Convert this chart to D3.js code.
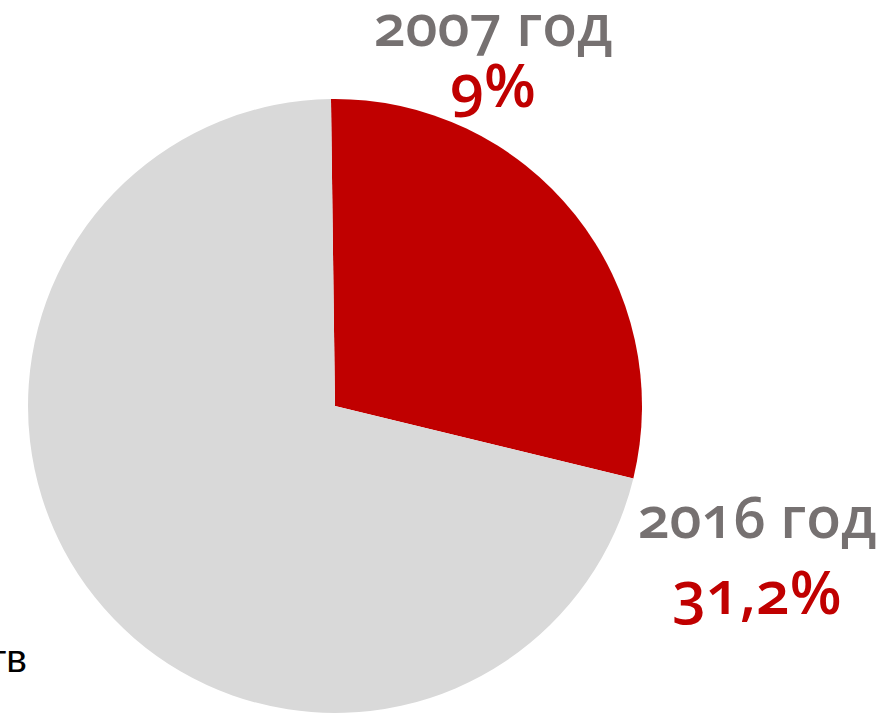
<!DOCTYPE html>
<html><head><meta charset="utf-8">
<script src="https://cdn.jsdelivr.net/npm/d3@7"></script>
<style>
html,body{margin:0;padding:0;background:#fff;}
svg{display:block;}
.lbl{font-family:"Open Sans",sans-serif;font-weight:600;font-feature-settings:"onum" 1;font-variant-numeric:oldstyle-nums;}
</style></head>
<body><svg id="c" width="890" height="714"></svg>
<script>
// slice shares as drawn in the picture (red = 2016 share region, grey = rest)
const sliceNames = ["доля", "остальное"];
const sliceValues = [29.0, 71.0];
const sliceColors = ["#C00000", "#D9D9D9"];
const yearLabels = ["2007 год", "2016 год"];
const pctLabels = ["9%", "31,2%"];
const sideLabel = "тв";

const svg = d3.select("#c");
const cx = 335, cy = 406, r = 307;
const startA = -0.75 * Math.PI / 180;
const pie = d3.pie().sort(null).startAngle(startA).endAngle(startA + 2 * Math.PI);
const arc = d3.arc().innerRadius(0).outerRadius(r);
const g = svg.append("g").attr("transform", `translate(${cx},${cy})`);
g.selectAll("path").data(pie(sliceValues)).join("path")
  .attr("d", arc).attr("fill", (d, i) => sliceColors[i]);

const pos = [{x: 493, y1: 46, y2: 107}, {x: 757, y1: 538, y2: 614}];
yearLabels.forEach((t, i) => {
  svg.append("text").attr("class", "lbl").attr("x", pos[i].x).attr("y", pos[i].y1)
    .attr("text-anchor", "middle").attr("font-size", 57).attr("fill", "#767171").text(t);
  svg.append("text").attr("class", "lbl").attr("x", pos[i].x).attr("y", pos[i].y2)
    .attr("text-anchor", "middle").attr("font-size", 60).attr("fill", "#C00000").text(pctLabels[i]);
});
svg.append("text").attr("x", 27).attr("y", 672).attr("text-anchor", "end")
  .attr("font-family", "Liberation Sans, Arial, sans-serif").attr("font-size", 39).attr("fill", "#000").text(sideLabel);
</script></body></html>
